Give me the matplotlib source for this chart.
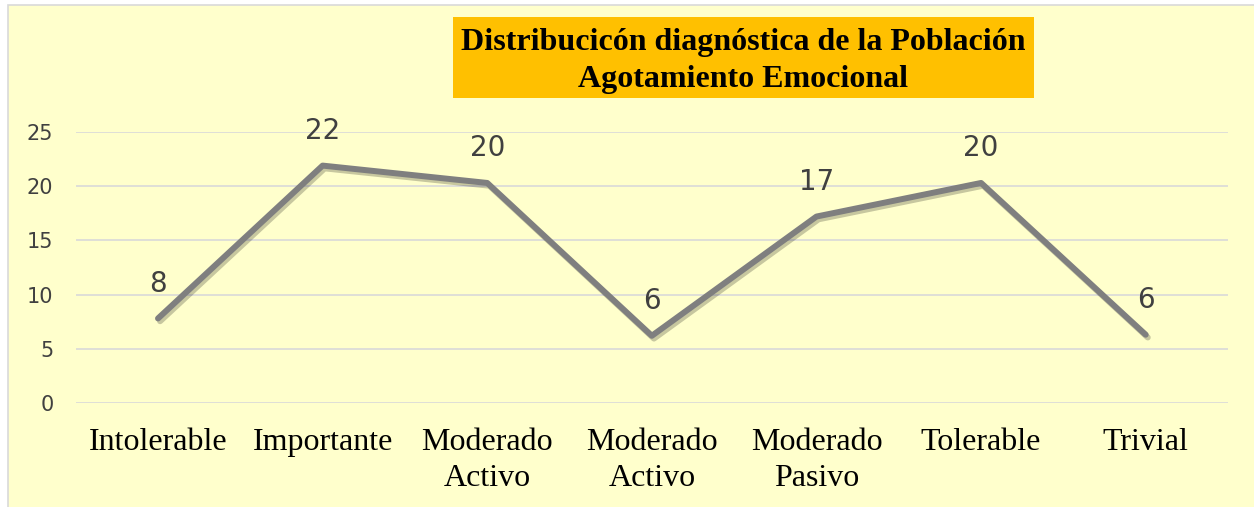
import matplotlib
matplotlib.use("Agg")
import matplotlib.pyplot as plt
import matplotlib.patheffects as pe
from matplotlib.patches import Rectangle

categories = ["Intolerable", "Importante", "Moderado\nActivo", "Moderado\nActivo",
              "Moderado\nPasivo", "Tolerable", "Trivial"]
values = [7.8, 21.9, 20.3, 6.2, 17.2, 20.3, 6.3]
labels = ["8", "22", "20", "6", "17", "20", "6"]
yticks = [0, 5, 10, 15, 20, 25]
title = "Distribucicón diagnóstica de la Población\nAgotamiento Emocional"

W, H = 1254, 507
fig = plt.figure(figsize=(W / 100, H / 100), dpi=100, facecolor="white")

# chart area background with light border
bg = Rectangle((8 / W, -0.01), 1.02 - 8 / W, 1 - 5 / H + 0.01, transform=fig.transFigure,
               facecolor="#FFFFCC", edgecolor="#D9D9D9", linewidth=1.2, zorder=-2)
fig.patches.append(bg)

ax = fig.add_axes([75.7 / W, (H - 403) / H, (1228 - 75.7) / W, 271 / H])
ax.set_facecolor("none")
ax.set_zorder(0)
x = list(range(len(categories)))
ax.plot(x, values, color="#7F7F7F", linewidth=4.3, solid_capstyle="round",
        solid_joinstyle="round", zorder=3,
        path_effects=[pe.SimpleLineShadow(offset=(1.5, -2), shadow_color="black", alpha=0.22),
                      pe.Normal()])
for xi, v, lab in zip(x, values, labels):
    ax.annotate(lab, (xi, v), xytext=(0, 25), textcoords="offset points",
                ha="center", va="center", fontsize=20, color="#404040",
                family="DejaVu Sans")

ax.set_xlim(-0.5, len(categories) - 0.5)
ax.set_ylim(0, 25)
ax.set_yticks(yticks)
ax.set_xticks(x)
ax.set_xticklabels(categories, family="Liberation Serif", fontsize=23, color="black",
                   linespacing=1.3)
ax.tick_params(axis="x", length=0, pad=18)
ax.tick_params(axis="y", length=0, pad=16, labelsize=15, labelcolor="#404040")
for t in ax.get_yticklabels():
    t.set_family("DejaVu Sans")
ax.grid(axis="y", color="#D9D9D9", linewidth=1.2)
ax.set_axisbelow(True)
for s in ax.spines.values():
    s.set_visible(False)

# title box
fig.patches.append(Rectangle((453 / W, 1 - 98 / H), (1034 - 453) / W, 81 / H,
                             transform=fig.transFigure, facecolor="#FFC000",
                             edgecolor="none", zorder=1))
fig.text((453 + 1034) / 2 / W, 1 - 61 / H, title, ha="center", va="center",
         family="Liberation Serif", fontweight="bold", fontsize=23, color="black",
         linespacing=1.32, zorder=2)

fig.savefig("out.png", dpi=100, facecolor=fig.get_facecolor())
